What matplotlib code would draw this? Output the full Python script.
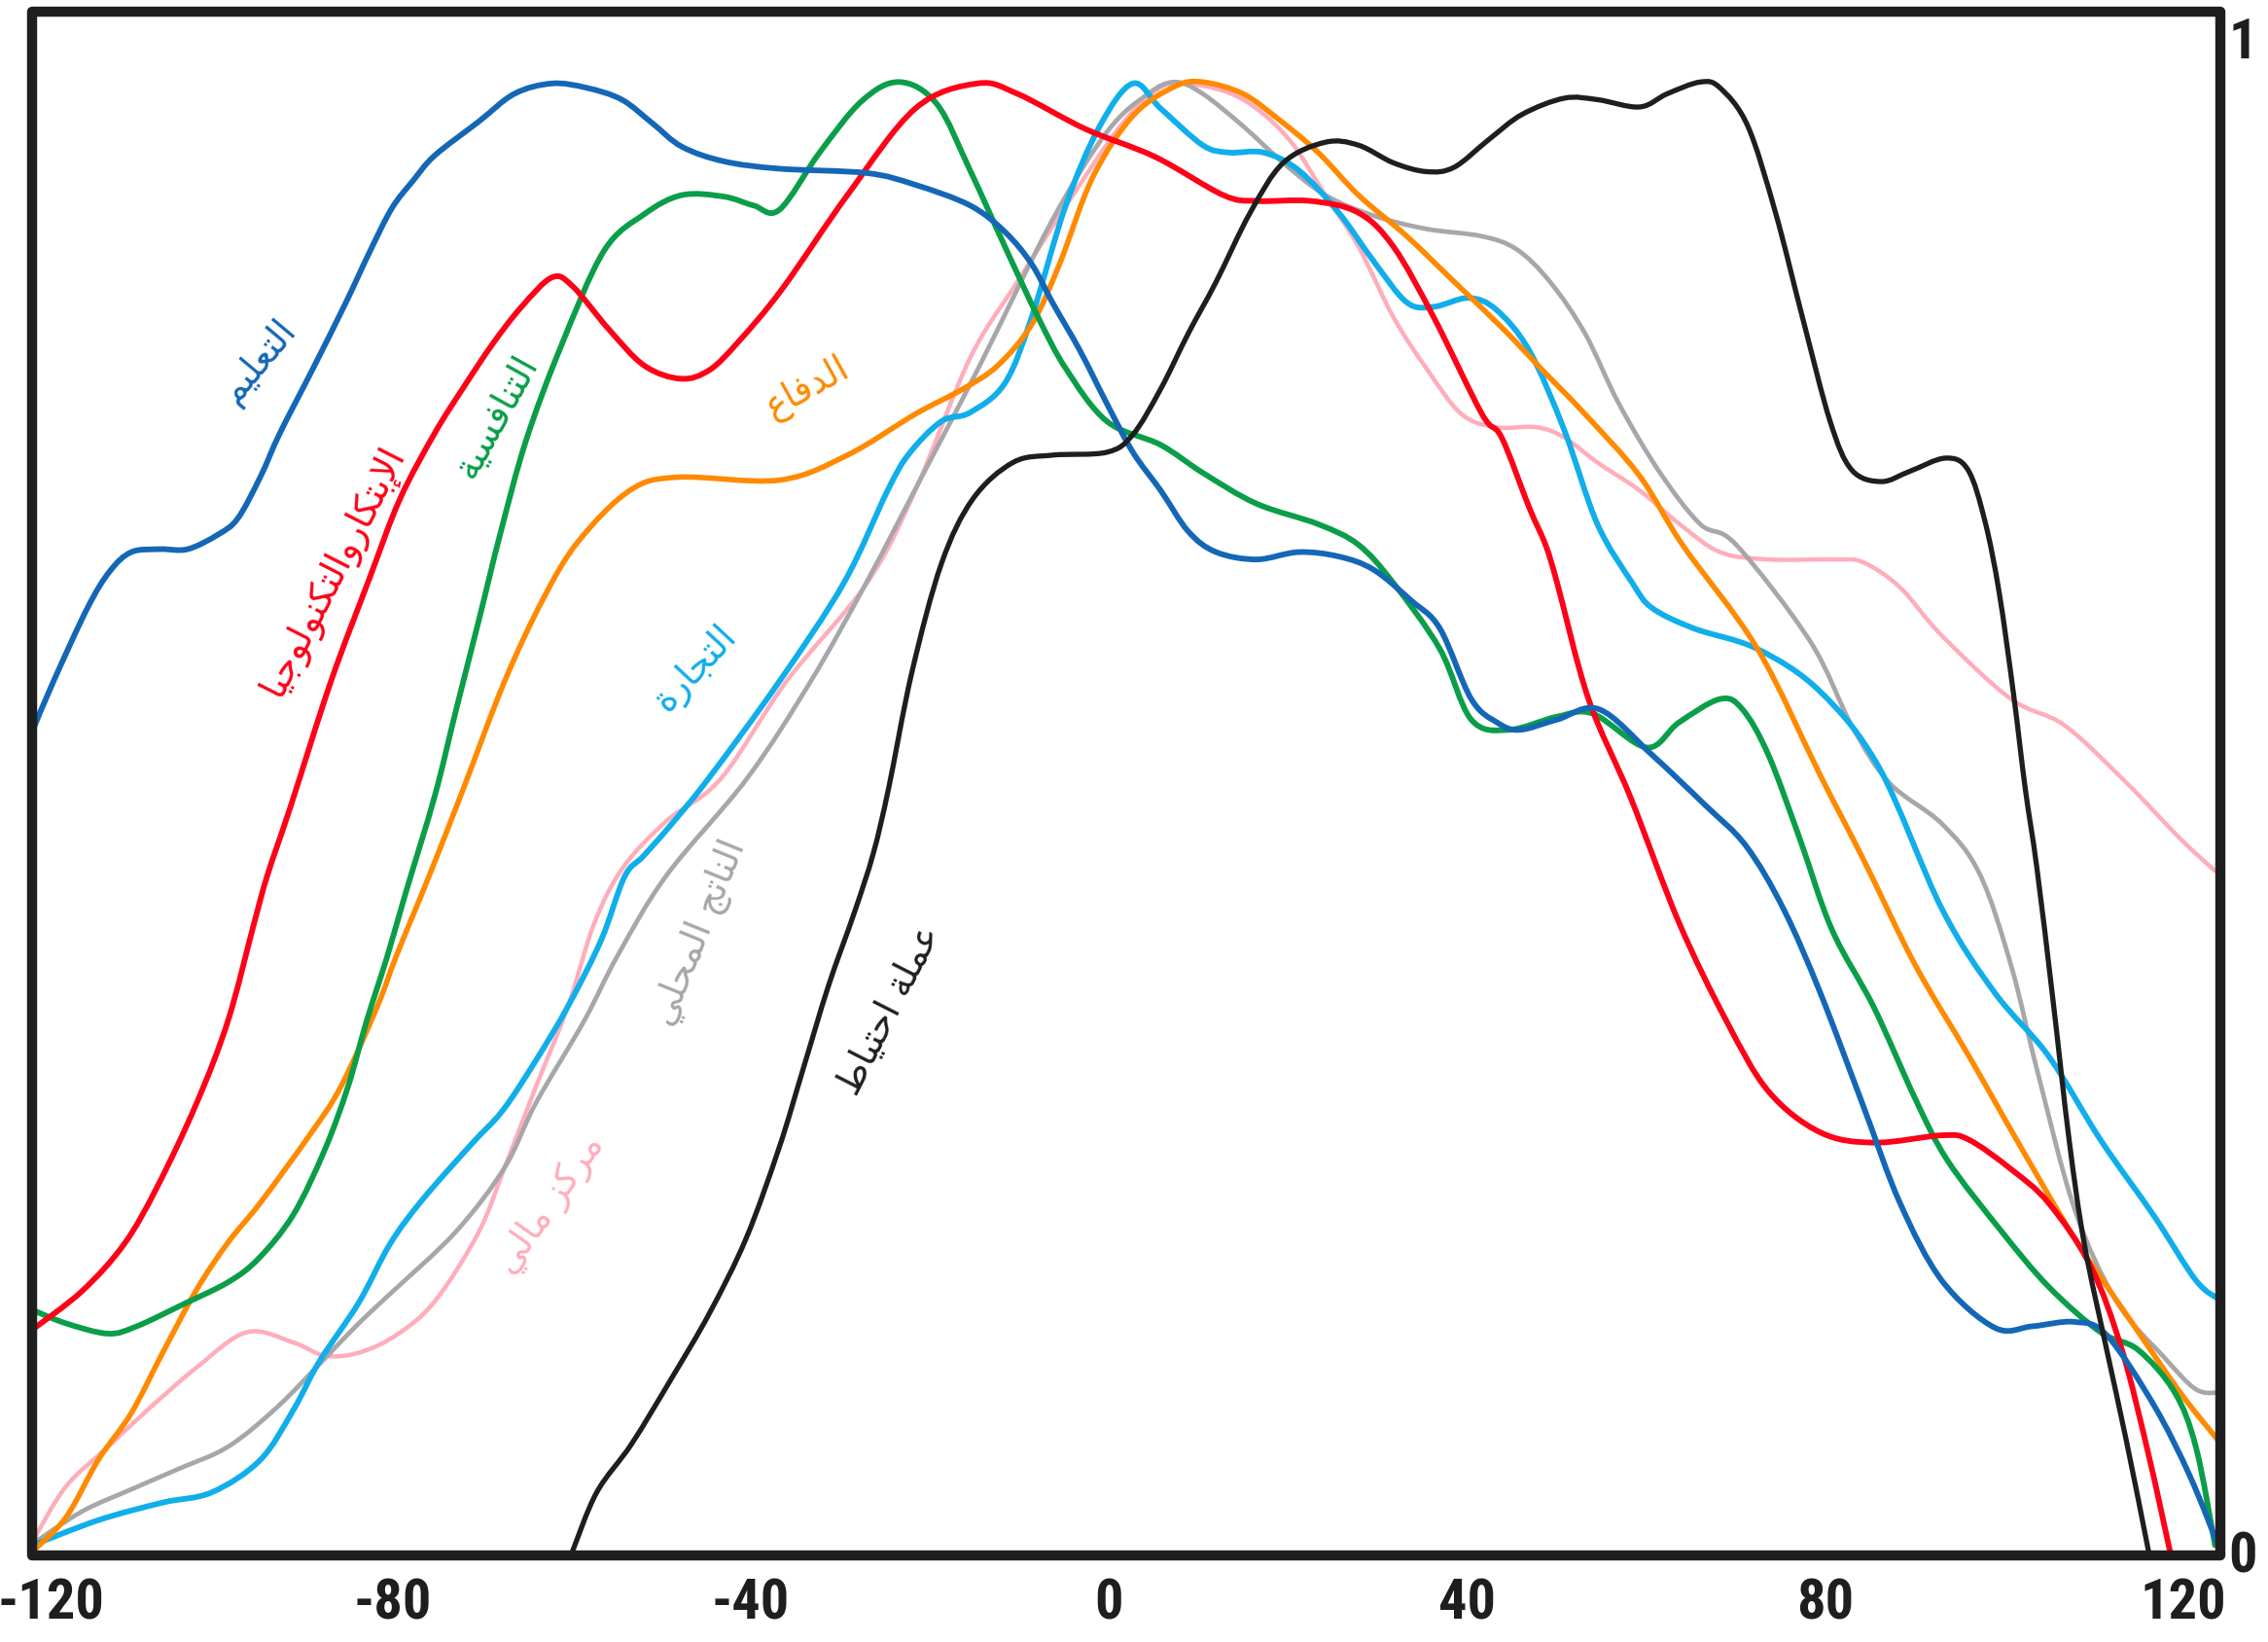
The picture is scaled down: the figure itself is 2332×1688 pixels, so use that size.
import matplotlib
matplotlib.use('Agg')
import matplotlib.pyplot as plt
import matplotlib.patches as patches
import matplotlib.transforms as mtransforms
from matplotlib.path import Path

# ---- data (x in chart units, y normalised 0..1) ----
edu_x = [-120.2, -117.9, -114.1, -111.6, -109.2, -106.0, -102.9, -99.5, -97.3, -94.8, -92.6, -88.9, -85.3,
         -82.6, -80.1, -77.7, -75.3, -70.4, -66.4, -62.2, -58.3, -54.4, -51.0, -47.7, -43.0, -36.8, -27.0,
         -21.6, -15.5, -11.6, -8.6, -6.3, -3.2, -0.2, 2.7, 5.8, 8.9, 12.0, 16.5, 21.2, 25.7, 29.6, 33.8, 37.0,
         40.5, 43.4, 45.9, 50.1, 54.8, 60.7, 66.6, 71.2, 75.4, 79.5, 84.3, 88.4, 93.1, 99.0, 103.2, 107.9,
         111.5, 116.8, 120.8, 124.2]
edu_y = [0.559, 0.592, 0.642, 0.667, 0.680, 0.682, 0.682, 0.692, 0.703, 0.731, 0.761, 0.805, 0.849, 0.884,
         0.914, 0.933, 0.950, 0.973, 0.992, 0.999, 0.996, 0.988, 0.972, 0.956, 0.946, 0.941, 0.938, 0.930,
         0.916, 0.898, 0.876, 0.850, 0.817, 0.781, 0.748, 0.722, 0.694, 0.680, 0.675, 0.680, 0.677, 0.668,
         0.647, 0.628, 0.580, 0.564, 0.559, 0.566, 0.573, 0.542, 0.508, 0.480, 0.437, 0.380, 0.303, 0.237,
         0.184, 0.152, 0.153, 0.156, 0.147, 0.099, 0.051, 0.000]

tech_x = [-120.2, -114.7, -110.0, -106.3, -101.9, -98.4, -95.5, -94.0, -91.4, -86.9, -82.6, -79.2, -75.3,
          -72.1, -68.8, -65.6, -62.2, -59.9, -55.9, -51.9, -47.8, -44.6, -41.4, -36.5, -29.2, -21.6, -14.7,
          -10.2, -2.6, 5.2, 12.8, 16.5, 22.6, 27.9, 31.8, 36.3, 41.7, 43.9, 47.0, 48.8, 50.1, 53.6, 58.3, 63.7,
          69.0, 73.7, 79.5, 85.5, 93.1, 96.1, 100.8, 105.0, 109.7, 113.2, 116.2, 118.6, 119.9]
tech_y = [0.151, 0.177, 0.209, 0.248, 0.305, 0.361, 0.427, 0.460, 0.507, 0.592, 0.662, 0.716, 0.761, 0.792,
          0.822, 0.847, 0.867, 0.861, 0.832, 0.807, 0.798, 0.804, 0.823, 0.859, 0.923, 0.982, 0.999, 0.992,
          0.968, 0.949, 0.923, 0.919, 0.919, 0.911, 0.888, 0.840, 0.774, 0.758, 0.710, 0.685, 0.659, 0.580,
          0.513, 0.428, 0.361, 0.313, 0.285, 0.278, 0.283, 0.280, 0.260, 0.237, 0.194, 0.137, 0.065, -0.001,
          -0.037]

comp_x = [-120.2, -116.5, -111.8, -108.6, -103.4, -98.4, -95.0, -91.1, -87.6, -85.0, -82.9, -80.6, -78.5,
          -75.3, -72.9, -70.4, -68.0, -65.1, -61.2, -56.4, -51.9, -47.7, -43.0, -39.7, -36.8, -32.3, -27.6,
          -23.4, -19.2, -15.5, -11.6, -7.9, -4.8, -0.2, 5.8, 10.5, 16.5, 23.4, 27.9, 31.8, 37.0, 40.5, 44.7,
          50.1, 54.1, 60.1, 63.7, 68.3, 70.8, 73.7, 77.2, 80.8, 85.5, 90.1, 93.7, 99.7, 105.0, 110.8, 115.0,
          119.1, 121.5, 123.6]
comp_y = [0.164, 0.155, 0.148, 0.153, 0.168, 0.183, 0.199, 0.229, 0.273, 0.316, 0.361, 0.405, 0.449, 0.514,
          0.573, 0.633, 0.692, 0.756, 0.820, 0.885, 0.910, 0.923, 0.922, 0.916, 0.913, 0.952, 0.987, 1.000,
          0.985, 0.940, 0.888, 0.840, 0.805, 0.769, 0.753, 0.734, 0.713, 0.699, 0.685, 0.659, 0.614, 0.566,
          0.559, 0.568, 0.570, 0.547, 0.564, 0.580, 0.573, 0.542, 0.485, 0.423, 0.370, 0.308, 0.266, 0.218,
          0.180, 0.149, 0.137, 0.108, 0.070, 0.004]

def_x = [-120.2, -116.5, -112.9, -109.2, -105.7, -101.9, -98.4, -94.8, -89.3, -85.8, -81.7, -79.6, -75.9,
         -72.1, -67.5, -63.2, -59.3, -53.5, -48.1, -36.8, -29.2, -21.6, -16.3, -12.4, -8.6, -5.5, -1.8, 2.7,
         7.4, 10.5, 15.0, 18.9, 23.4, 27.9, 33.3, 38.6, 43.9, 48.6, 53.2, 59.3, 64.1, 72.5, 79.5, 84.3, 90.1,
         96.1, 101.9, 107.9, 113.7, 119.7, 123.6, 124.2]
def_y = [0.000, 0.023, 0.062, 0.094, 0.135, 0.178, 0.210, 0.237, 0.283, 0.316, 0.371, 0.405, 0.460, 0.519,
         0.592, 0.648, 0.687, 0.722, 0.731, 0.729, 0.746, 0.774, 0.791, 0.807, 0.835, 0.876, 0.935, 0.977,
         0.997, 1.000, 0.992, 0.975, 0.952, 0.923, 0.895, 0.864, 0.833, 0.803, 0.774, 0.732, 0.685, 0.614,
         0.528, 0.471, 0.399, 0.337, 0.275, 0.213, 0.161, 0.108, 0.078, 0.073]

trade_x = [-120.2, -112.9, -105.7, -100.2, -94.8, -91.1, -88.2, -83.8, -80.3, -76.7, -71.2, -67.7, -64.0,
           -60.4, -56.7, -54.1, -52.0, -49.1, -44.7, -36.8, -29.6, -24.7, -22.3, -18.7, -15.5, -11.6, -8.6,
           -4.8, -1.0, 2.7, 5.8, 10.5, 13.4, 17.3, 21.2, 25.7, 29.6, 33.3, 36.3, 40.2, 43.3, 47.0, 50.9, 54.6,
           58.5, 60.7, 65.4, 72.5, 79.5, 86.1, 93.1, 99.0, 105.0, 110.8, 116.8, 121.5, 124.2]
trade_y = [0.004, 0.021, 0.033, 0.040, 0.062, 0.096, 0.129, 0.169, 0.209, 0.239, 0.277, 0.300, 0.334, 0.371,
           0.416, 0.459, 0.473, 0.493, 0.526, 0.592, 0.659, 0.722, 0.747, 0.769, 0.775, 0.795, 0.840, 0.916,
           0.970, 0.999, 0.982, 0.957, 0.952, 0.952, 0.940, 0.911, 0.878, 0.850, 0.847, 0.853, 0.845, 0.817,
           0.763, 0.699, 0.659, 0.642, 0.628, 0.614, 0.585, 0.533, 0.437, 0.380, 0.337, 0.280, 0.228, 0.184,
           0.171]

fin_x = [-120.2, -116.5, -111.8, -107.4, -101.9, -96.3, -91.1, -87.6, -83.8, -79.6, -75.3, -70.4, -67.5,
         -64.0, -60.4, -57.5, -54.3, -49.4, -43.3, -36.0, -27.0, -21.6, -15.5, -10.2, -4.0, 1.3, 5.2, 8.1,
         12.8, 16.5, 20.4, 24.2, 27.9, 31.8, 35.5, 39.4, 43.3, 47.8, 50.9, 54.6, 59.3, 63.8, 68.3, 73.7, 81.3,
         84.3, 88.4, 93.1, 100.8, 106.8, 113.7, 119.7, 123.6]
fin_y = [0.007, 0.044, 0.071, 0.096, 0.125, 0.149, 0.142, 0.133, 0.135, 0.147, 0.170, 0.217, 0.261, 0.316,
         0.371, 0.427, 0.465, 0.497, 0.526, 0.592, 0.659, 0.722, 0.812, 0.864, 0.923, 0.970, 0.994, 0.999,
         0.994, 0.982, 0.959, 0.923, 0.888, 0.840, 0.805, 0.774, 0.765, 0.765, 0.758, 0.741, 0.722, 0.699,
         0.680, 0.675, 0.675, 0.673, 0.656, 0.623, 0.580, 0.562, 0.523, 0.485, 0.463]

gdp_x = [-120.2, -114.7, -109.2, -103.9, -98.4, -92.9, -87.6, -83.8, -80.3, -73.0, -67.5, -64.0, -58.6,
         -54.9, -49.4, -40.4, -33.3, -27.1, -21.0, -14.5, -6.3, -0.2, 4.4, 7.4, 10.5, 15.0, 19.5, 24.2, 29.6,
         35.5, 41.7, 45.6, 49.3, 53.2, 57.0, 61.6, 66.1, 70.1, 78.4, 83.0, 87.2, 93.1, 97.3, 100.8, 103.7,
         107.9, 112.6, 117.9, 121.5, 124.2]
gdp_y = [0.005, 0.027, 0.042, 0.056, 0.071, 0.098, 0.131, 0.155, 0.175, 0.217, 0.261, 0.305, 0.361, 0.405,
         0.460, 0.526, 0.592, 0.659, 0.730, 0.806, 0.906, 0.966, 0.992, 1.000, 0.992, 0.970, 0.945, 0.923,
         0.909, 0.900, 0.895, 0.886, 0.864, 0.829, 0.781, 0.734, 0.699, 0.685, 0.619, 0.562, 0.523, 0.495,
         0.461, 0.399, 0.328, 0.233, 0.170, 0.132, 0.110, 0.108]

res_x = [-59.9, -57.2, -53.3, -48.9, -44.6, -40.5, -36.8, -34.1, -31.3, -28.4, -26.3, -24.6, -22.0, -18.7,
         -15.2, -10.7, -6.3, -0.2, 2.7, 5.8, 8.9, 12.0, 15.8, 19.5, 24.2, 27.9, 31.8, 35.5, 38.6, 42.5, 46.2,
         50.9, 54.6, 59.3, 62.4, 66.1, 68.3, 71.4, 74.5, 77.5, 80.6, 83.0, 86.3, 89.5, 93.5, 96.0, 97.9, 99.5,
         101.1, 102.4, 103.7, 105.5, 107.3, 109.0, 111.5, 113.7, 116.2, 117.3]
res_y = [0.000, 0.040, 0.073, 0.117, 0.162, 0.213, 0.275, 0.329, 0.385, 0.435, 0.475, 0.519, 0.598, 0.672,
         0.716, 0.741, 0.746, 0.748, 0.760, 0.791, 0.829, 0.864, 0.911, 0.945, 0.959, 0.957, 0.945, 0.939,
         0.942, 0.961, 0.978, 0.989, 0.988, 0.983, 0.992, 1.000, 0.996, 0.970, 0.911, 0.840, 0.769, 0.736,
         0.728, 0.735, 0.744, 0.736, 0.701, 0.652, 0.583, 0.519, 0.465, 0.375, 0.280, 0.209, 0.137, 0.075,
         -0.001, -0.037]

x_ticks = [-120, -80, -40, 0, 40, 80, 120]
grid_x = [-80, -40, 0, 40, 80]

# series: (x, y, colour, width, label, label_x, label_y, label_angle)
series = [
    (fin_x, fin_y, '#ffadbb', 3.2, 'مركز مالي', -62.4, 0.236, 55),
    (gdp_x, gdp_y, '#a7a7aa', 3.4, 'الناتج المحلي', -45.7, 0.421, 68),
    (trade_x, trade_y, '#10aeea', 4.2, 'التجارة', -46.2, 0.601, 47),
    (def_x, def_y, '#ff8a00', 4.0, 'الدفاع', -33.6, 0.792, 29),
    (comp_x, comp_y, '#0a9e48', 4.2, 'التنافسية', -68.3, 0.772, 61),
    (tech_x, tech_y, '#ff0018', 4.2, 'الإبتكاروالتكنولوجيا', -86.6, 0.667, 63),
    (edu_x, edu_y, '#1467b6', 4.2, 'التعليم', -95.0, 0.81, 50),
    (res_x, res_y, '#1e1e1e', 3.8, 'عملة احتياط', -24.4, 0.368, 63),
]

# ---- minimal Arabic shaping (presentation forms) so matplotlib shows joined, RTL text ----
FORMS = {
    'ا': (0xFE8D, 0xFE8E, None, None), 'إ': (0xFE87, 0xFE88, None, None),
    'ب': (0xFE8F, 0xFE90, 0xFE91, 0xFE92), 'ة': (0xFE93, 0xFE94, None, None),
    'ت': (0xFE95, 0xFE96, 0xFE97, 0xFE98), 'ج': (0xFE9D, 0xFE9E, 0xFE9F, 0xFEA0),
    'ح': (0xFEA1, 0xFEA2, 0xFEA3, 0xFEA4), 'د': (0xFEA9, 0xFEAA, None, None),
    'ر': (0xFEAD, 0xFEAE, None, None), 'ز': (0xFEAF, 0xFEB0, None, None),
    'س': (0xFEB1, 0xFEB2, 0xFEB3, 0xFEB4), 'ط': (0xFEC1, 0xFEC2, 0xFEC3, 0xFEC4),
    'ع': (0xFEC9, 0xFECA, 0xFECB, 0xFECC), 'ف': (0xFED1, 0xFED2, 0xFED3, 0xFED4),
    'ك': (0xFED9, 0xFEDA, 0xFEDB, 0xFEDC), 'ل': (0xFEDD, 0xFEDE, 0xFEDF, 0xFEE0),
    'م': (0xFEE1, 0xFEE2, 0xFEE3, 0xFEE4), 'ن': (0xFEE5, 0xFEE6, 0xFEE7, 0xFEE8),
    'و': (0xFEED, 0xFEEE, None, None), 'ي': (0xFEF1, 0xFEF2, 0xFEF3, 0xFEF4),
}
LAM_ALEF = {'ا': (0xFEFB, 0xFEFC), 'إ': (0xFEF9, 0xFEFA)}


def dual(c):
    return c in FORMS and FORMS[c][2] is not None


def shape(text):
    out = []
    i = 0
    while i < len(text):
        c = text[i]
        if c not in FORMS:
            out.append(c)
            i += 1
            continue
        prev_joins = i > 0 and dual(text[i - 1])
        nxt = text[i + 1] if i + 1 < len(text) else ''
        if c == 'ل' and nxt in LAM_ALEF:
            out.append(chr(LAM_ALEF[nxt][1 if prev_joins else 0]))
            i += 2
            continue
        next_joins = dual(c) and nxt in FORMS
        iso, fin, ini, med = FORMS[c]
        if prev_joins and next_joins:
            out.append(chr(med))
        elif prev_joins:
            out.append(chr(fin))
        elif next_joins:
            out.append(chr(ini))
        else:
            out.append(chr(iso))
        i += 1
    return ''.join(reversed(out))


def smooth_path(xs, ys):
    # Catmull-Rom through the read points, drawn as cubic Bezier segments
    pts = list(zip(xs, ys))
    verts = [pts[0]]
    codes = [Path.MOVETO]
    n = len(pts)
    for i in range(n - 1):
        p0 = pts[i - 1] if i > 0 else pts[i]
        p1 = pts[i]
        p2 = pts[i + 1]
        p3 = pts[i + 2] if i + 2 < n else pts[i + 1]
        c1 = (p1[0] + (p2[0] - p0[0]) / 6, p1[1] + (p2[1] - p0[1]) / 6)
        c2 = (p2[0] - (p3[0] - p1[0]) / 6, p2[1] - (p3[1] - p1[1]) / 6)
        verts += [c1, c2, p2]
        codes += [Path.CURVE4] * 3
    return Path(verts, codes)


fig = plt.figure(figsize=(23.32, 16.88), dpi=100)
ax = fig.add_axes([0.0141, 0.0527, 0.9649, 0.9403])

for xs, ys, col, lw, name, lx, ly, ang in series:
    ax.add_patch(patches.PathPatch(smooth_path(xs, ys), fill=False, edgecolor=col, lw=lw,
                                   capstyle='round', joinstyle='round', zorder=3))
    ax.text(lx, ly, shape(name), color=col, fontsize=27, rotation=ang, rotation_mode='anchor',
            ha='center', va='center', family=['DejaVu Sans'], zorder=4)

ax.set_xlim(-120.3, 124.2)
ax.set_ylim(-0.003, 1.048)

ax.set_xticks(x_ticks)
ax.set_xticklabels([str(v) for v in x_ticks])
ax.set_xticks(grid_x, minor=True)
ax.xaxis.grid(True, which='minor', color='#cdd2d2', lw=7, zorder=0)
ax.set_axisbelow(True)

ax.yaxis.tick_right()
ax.set_yticks([0, 1.03])
ax.set_yticklabels(['0', '1'])

for lab in ax.get_xticklabels() + ax.get_yticklabels():
    lab.set_family(['Roboto Condensed', 'Liberation Sans Narrow', 'DejaVu Sans'])
    lab.set_fontstretch('condensed')
    lab.set_fontweight('bold')
    lab.set_fontsize(42)
    lab.set_color('#1e1e1e')

ax.tick_params(axis='x', which='both', length=0, pad=16)
ax.tick_params(axis='y', which='both', length=0, pad=6)

# the first label sits a little to the right so it stays on the canvas
first = ax.get_xticklabels()[0]
first.set_transform(first.get_transform() + mtransforms.ScaledTranslation(0.17, 0, fig.dpi_scale_trans))

for sp in ax.spines.values():
    sp.set_visible(False)
frame = patches.Rectangle((0, 0), 1, 1, transform=ax.transAxes, fill=False, lw=7.5,
                          edgecolor='#1e1e1e', joinstyle='round', clip_on=False, zorder=6)
ax.add_patch(frame)

fig.savefig('out.png', dpi=100, facecolor='white')
